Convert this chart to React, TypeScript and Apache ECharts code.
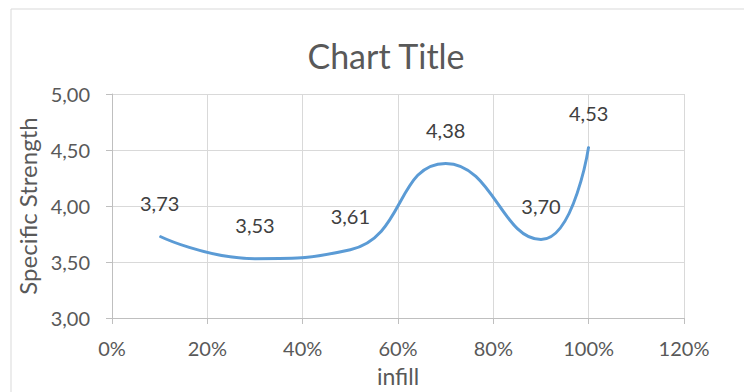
import React, { useEffect, useRef } from "react";
import * as echarts from "echarts";

const infill = [0.1, 0.3, 0.5, 0.7, 0.9, 1.0];
const specificStrength = [3.73, 3.53, 3.61, 4.38, 3.7, 4.53];
const titleText = "Chart Title";
const xAxisName = "infill";
const yAxisName = "Specific Strength";

const FONT = "Lato, 'Open Sans', sans-serif";

export default function App() {
  const ref = useRef<HTMLDivElement>(null);
  useEffect(() => {
    if (!ref.current) return;
    const chart = echarts.init(ref.current, undefined, { renderer: "svg" });
    chart.setOption({
      animation: false,
      backgroundColor: "#ffffff",
      textStyle: { fontFamily: FONT },
      graphic: [
        {
          type: "rect",
          shape: { x: 11, y: 9, width: 760, height: 400 },
          style: { fill: "none", stroke: "#D9D9D9", lineWidth: 1 },
          silent: true,
        },
      ],
      title: {
        text: titleText,
        left: 381,
        top: 33,
        textAlign: "center",
        textStyle: { fontFamily: FONT, fontSize: 34, fontWeight: "normal", color: "#595959" },
      },
      grid: { left: 112, right: 60, top: 94, bottom: 74, containLabel: false },
      xAxis: {
        type: "value",
        min: 0,
        max: 1.2,
        interval: 0.2,
        name: xAxisName,
        nameLocation: "middle",
        nameGap: 46,
        nameTextStyle: { fontFamily: FONT, fontSize: 23, color: "#595959" },
        axisLine: { show: true, lineStyle: { color: "#BFBFBF", width: 1 } },
        axisTick: { show: true, length: 6, lineStyle: { color: "#BFBFBF" } },
        splitLine: { show: true, lineStyle: { color: "#D9D9D9", width: 1 } },
        axisLabel: {
          margin: 20,
          fontSize: 20,
          color: "#595959",
          fontFamily: FONT,
          formatter: (v: number) => Math.round(v * 100) + "%",
        },
      },
      yAxis: {
        type: "value",
        min: 3,
        max: 5,
        interval: 0.5,
        name: yAxisName,
        nameLocation: "middle",
        nameGap: 64,
        nameTextStyle: { fontFamily: FONT, fontSize: 24, color: "#595959" },
        axisLine: { show: true, lineStyle: { color: "#BFBFBF", width: 1 } },
        axisTick: { show: true, length: 6, lineStyle: { color: "#BFBFBF" } },
        splitLine: { show: true, lineStyle: { color: "#D9D9D9", width: 1 } },
        axisLabel: {
          margin: 22,
          fontSize: 20,
          color: "#595959",
          fontFamily: FONT,
          formatter: (v: number) => v.toFixed(2).replace(".", ","),
        },
      },
      series: [
        {
          type: "line",
          data: infill.map((x, i) => [x, specificStrength[i]]),
          smooth: 0.5,
          showSymbol: true,
          symbol: "circle",
          symbolSize: 1,
          itemStyle: { color: "#5B9BD5" },
          lineStyle: { color: "#5B9BD5", width: 3 },
          label: {
            show: true,
            position: "top",
            distance: 23,
            fontSize: 20,
            color: "#404040",
            fontFamily: FONT,
            formatter: (p: any) => p.value[1].toFixed(2).replace(".", ","),
          },
        },
      ],
    });
    return () => chart.dispose();
  }, []);
  return (
    <div
      ref={ref}
      style={{ position: "fixed", left: 0, top: 0, width: 744, height: 392 }}
    />
  );
}
